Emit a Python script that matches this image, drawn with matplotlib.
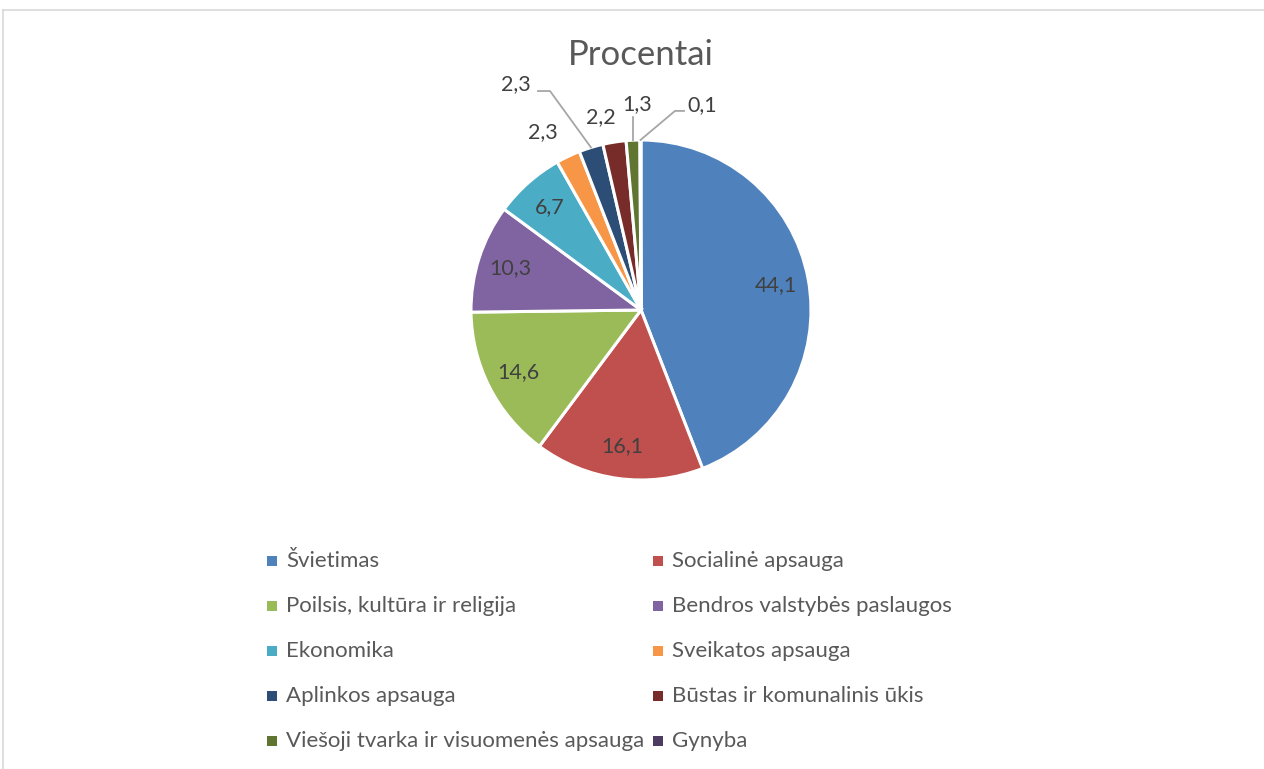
import matplotlib
matplotlib.use("Agg")
import matplotlib.pyplot as plt
import numpy as np
from matplotlib.patches import Rectangle
from matplotlib.lines import Line2D

plt.rcParams['font.family'] = ['Lato', 'DejaVu Sans']

# ---- data ----
categories = ["Švietimas", "Socialinė apsauga", "Poilsis, kultūra ir religija",
              "Bendros valstybės paslaugos", "Ekonomika", "Sveikatos apsauga",
              "Aplinkos apsauga", "Būstas ir komunalinis ūkis",
              "Viešoji tvarka ir visuomenės apsauga", "Gynyba"]
values = [44.1, 16.1, 14.6, 10.3, 6.7, 2.3, 2.3, 2.2, 1.3, 0.1]
colors = ["#4F81BD", "#C0504D", "#9BBB59", "#8064A2", "#4BACC6",
          "#F79646", "#2C4D75", "#772C2A", "#5F7530", "#4D3B62"]
title = "Procentai"

# ---- layout (pixels in a 1264x769 figure) ----
W, H = 1264, 769
cx, cy, R = 641, 310, 170
# outside label placement for small slices, in units of radius
outside = {
    5: dict(text=(-0.576, 1.047), elbow=None, end=None),
    6: dict(text=(-0.735, 1.33), elbow=(-0.535, 1.288), end=(-0.606, 1.288)),
    7: dict(text=(-0.235, 1.135), elbow=None, end=None),
    8: dict(text=(-0.024, 1.21), elbow=(-0.047, 1.135), end=None),
    9: dict(text=(0.359, 1.205), elbow=(0.2, 1.171), end=(0.253, 1.171)),
}

fig = plt.figure(figsize=(W / 100, H / 100), dpi=100)
fig.patch.set_facecolor("white")

# chart border (cropped on right and bottom)
fig.add_artist(Line2D([3 / W, 3 / W], [1 - 10 / H, 0], color="#D9D9D9", lw=1.2,
                      transform=fig.transFigure))
fig.add_artist(Line2D([3 / W, 1], [1 - 10 / H, 1 - 10 / H], color="#D9D9D9", lw=1.2,
                      transform=fig.transFigure))

ax = fig.add_axes([(cx - R) / W, 1 - (cy + R) / H, 2 * R / W, 2 * R / H])
wedges, _ = ax.pie(values, colors=colors, startangle=90, counterclock=False,
                   radius=1, wedgeprops=dict(edgecolor="white", linewidth=2.2))
ax.set_xlim(-1, 1)
ax.set_ylim(-1, 1)
ax.set_aspect("equal")
ax.axis("off")

lbl_color = "#404040"
for i, (w, v) in enumerate(zip(wedges, values)):
    mid = np.deg2rad((w.theta1 + w.theta2) / 2)
    txt = f"{v:.1f}".replace(".", ",")
    if i not in outside:
        r = 0.81
        ax.text(r * np.cos(mid), r * np.sin(mid), txt, ha="center", va="center",
                fontsize=15.5, color=lbl_color)
    else:
        o = outside[i]
        tx, ty = o["text"]
        ax.text(tx, ty, txt, ha="center", va="center", fontsize=15.5, color=lbl_color,
                clip_on=False)
        if o["elbow"] is not None:
            xs = [np.cos(mid), o["elbow"][0]]
            ys = [np.sin(mid), o["elbow"][1]]
            if o["end"] is not None:
                xs.append(o["end"][0])
                ys.append(o["end"][1])
            ax.plot(xs, ys, color="#A6A6A6", lw=1.3, clip_on=False)

fig.text(cx / W, 1 - 55 / H, title, ha="center", va="center", fontsize=25,
         color="#595959")

# legend (two columns)
col_x = [272, 658]
row_y0, row_dy = 561, 45
sq = 10
for i, (cat, c) in enumerate(zip(categories, colors)):
    col, row = i % 2, i // 2
    x = col_x[col]
    y = row_y0 + row * row_dy
    fig.add_artist(Rectangle(((x - sq / 2) / W, 1 - (y + sq / 2) / H), sq / W, sq / H,
                             facecolor=c, edgecolor="none", transform=fig.transFigure))
    fig.text((x + 14) / W, 1 - y / H, cat, ha="left", va="center", fontsize=16,
             color="#595959")

fig.savefig("out.png", dpi=100)
